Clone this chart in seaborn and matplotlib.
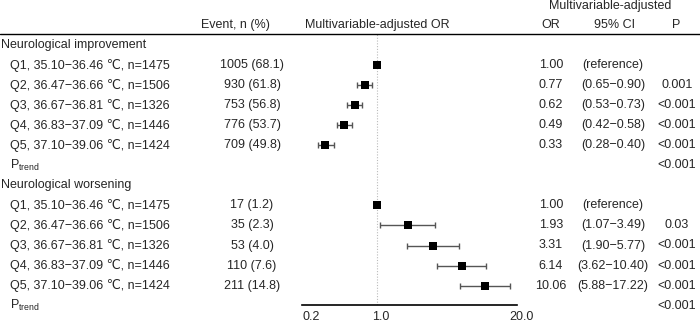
import numpy as np
import pandas as pd
import seaborn as sns
import matplotlib
matplotlib.use("Agg")
import matplotlib.pyplot as plt
from matplotlib.transforms import blended_transform_factory, ScaledTranslation

# %% Data

lst_quint = ["Q1, 35.10\u221236.46 \u2103, n=1475",
             "Q2, 36.47\u221236.66 \u2103, n=1506",
             "Q3, 36.67\u221236.81 \u2103, n=1326",
             "Q4, 36.83\u221237.09 \u2103, n=1446",
             "Q5, 37.10\u221239.06 \u2103, n=1424"]

# neurological improvement
lst_evt_imp = ["1005 (68.1)", "930 (61.8)", "753 (56.8)", "776 (53.7)", "709 (49.8)"]
lst_or_imp = [1.00, 0.77, 0.62, 0.49, 0.33]
lst_lo_imp = [np.nan, 0.65, 0.53, 0.42, 0.28]
lst_hi_imp = [np.nan, 0.90, 0.73, 0.58, 0.40]
lst_p_imp = ["", "0.001", "<0.001", "<0.001", "<0.001"]
str_ptrend_imp = "<0.001"

# neurological worsening
lst_evt_wrs = ["17 (1.2)", "35 (2.3)", "53 (4.0)", "110 (7.6)", "211 (14.8)"]
lst_or_wrs = [1.00, 1.93, 3.31, 6.14, 10.06]
lst_lo_wrs = [np.nan, 1.07, 1.90, 3.62, 5.88]
lst_hi_wrs = [np.nan, 3.49, 5.77, 10.40, 17.22]
lst_p_wrs = ["", "0.03", "<0.001", "<0.001", "<0.001"]
str_ptrend_wrs = "<0.001"

lst_ticks = [0.2, 1.0, 20.0]
lst_ticklabels = ["0.2", "1.0", "20.0"]

# %% Build table rows

rows = []
for name, grp in [("Neurological improvement",
                   (lst_evt_imp, lst_or_imp, lst_lo_imp, lst_hi_imp, lst_p_imp, str_ptrend_imp)),
                  ("Neurological worsening",
                   (lst_evt_wrs, lst_or_wrs, lst_lo_wrs, lst_hi_wrs, lst_p_wrs, str_ptrend_wrs))]:
    evt, orr, lo, hi, pv, ptr = grp
    rows.append(dict(label=name, indent=False, evt="", orr=np.nan, lo=np.nan,
                     hi=np.nan, p=""))
    for i in range(5):
        rows.append(dict(label=lst_quint[i], indent=True, evt=evt[i], orr=orr[i],
                         lo=lo[i], hi=hi[i], p=pv[i]))
    rows.append(dict(label="P$_\\mathregular{trend}$", indent=True, evt="",
                     orr=np.nan, lo=np.nan, hi=np.nan, p=ptr))
df = pd.DataFrame(rows)
df["row"] = np.arange(len(df))

# %% Plot

sns.set_style("white")
plt.rcParams["font.family"] = ["Liberation Sans", "DejaVu Sans"]
plt.rcParams["mathtext.fontset"] = "custom"
plt.rcParams["mathtext.rm"] = "Liberation Sans"
fs = 9

W, H = 700, 323
fig = plt.figure(figsize=(7.0, 3.23), dpi=100)

# forest axis in pixel placement
x0, x1 = 302, 517
ytop, ybot = 34, 305.3
ax = fig.add_axes([x0 / W, 1 - ybot / H, (x1 - x0) / W, (ybot - ytop) / H])
r_top = (ytop - 45) / 20.05
r_bot = (ybot - 45) / 20.05
ax.set_ylim(r_bot, r_top)
ax.set_xscale("log")
ax.set_xlim(0.2, 20)

ax.axvline(1.0, color="#bbbbbb", lw=0.8, ls=(0, (1, 1.5)), zorder=0)

df_ci = df.dropna(subset=["lo"])
ax.errorbar(df_ci["orr"], df_ci["row"],
            xerr=[df_ci["orr"] - df_ci["lo"], df_ci["hi"] - df_ci["orr"]],
            fmt="none", ecolor="#555555", elinewidth=1.0, capsize=2.2,
            capthick=1.0, zorder=2)
sns.scatterplot(data=df.dropna(subset=["orr"]), x="orr", y="row", marker="s",
                color="black", s=30, linewidth=0, ax=ax, zorder=3)

for s in ["top", "right", "left"]:
    ax.spines[s].set_visible(False)
ax.spines["bottom"].set_color("black")
ax.spines["bottom"].set_linewidth(1.2)
ax.set_yticks([])
ax.set_xticks(lst_ticks)
ax.set_xticklabels(lst_ticklabels, fontsize=fs)
ax.xaxis.set_minor_locator(matplotlib.ticker.NullLocator())
ax.tick_params(axis="x", length=0, pad=4)
for i, lab in enumerate(ax.get_xticklabels()):
    dx = 9 if i == 0 else 4
    lab.set_transform(lab.get_transform() +
                      ScaledTranslation(dx / 100, 0, fig.dpi_scale_trans))
ax.set_xlabel("")
ax.set_ylabel("")

# text columns
trans = blended_transform_factory(fig.transFigure, ax.transData)
for _, r in df.iterrows():
    xl = 10 if r["indent"] else 1
    ax.text(xl / W, r["row"], r["label"], transform=trans, ha="left",
            va="center", fontsize=fs)
    if r["evt"]:
        ax.text(252 / W, r["row"], r["evt"], transform=trans, ha="center",
                va="center", fontsize=fs)
    if not np.isnan(r["orr"]):
        ax.text(551 / W, r["row"], f"{r['orr']:.2f}", transform=trans,
                ha="center", va="center", fontsize=fs)
        if np.isnan(r["lo"]):
            ci = "(reference)"
        else:
            ci = f"({r['lo']:.2f}\u2212{r['hi']:.2f})"
        ax.text(613 / W, r["row"], ci, transform=trans, ha="center",
                va="center", fontsize=fs)
    if r["p"]:
        ax.text(677 / W, r["row"], r["p"], transform=trans, ha="center",
                va="center", fontsize=fs)

# headers
fig.text(235 / W, 1 - 25 / H, "Event, n (%)", ha="center", va="center", fontsize=fs)
fig.text(377 / W, 1 - 25 / H, "Multivariable-adjusted OR", ha="center",
         va="center", fontsize=fs)
fig.text(610 / W, 1 - 6 / H, "Multivariable-adjusted", ha="center",
         va="center", fontsize=fs)
fig.text(551 / W, 1 - 25 / H, "OR", ha="center", va="center", fontsize=fs)
fig.text(614 / W, 1 - 25 / H, "95% CI", ha="center", va="center", fontsize=fs)
fig.text(676 / W, 1 - 25 / H, "P", ha="center", va="center", fontsize=fs)
fig.add_artist(plt.Line2D([0, 1], [1 - 34 / H, 1 - 34 / H], color="black",
                          lw=1.0, transform=fig.transFigure))

fig.savefig("out.png", dpi=100)
